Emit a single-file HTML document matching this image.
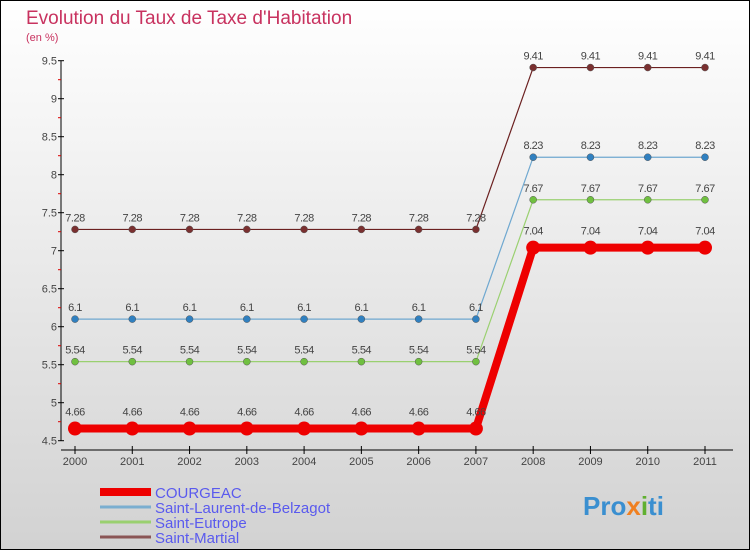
<!DOCTYPE html>
<html><head><meta charset="utf-8"><style>
body{margin:0}
#c{width:750px;height:550px;position:relative;overflow:hidden;font-family:"Liberation Sans",sans-serif}
</style></head><body>
<div id="c">
<svg id="s" width="750" height="550" xmlns="http://www.w3.org/2000/svg">
<defs><linearGradient id="bg" x1="0" y1="0" x2="0" y2="1"><stop offset="0" stop-color="#ffffff"/><stop offset="1" stop-color="#d2d2d2"/></linearGradient></defs>
<rect x="0.5" y="0.5" width="749" height="549" fill="url(#bg)" stroke="#000"/>
<text x="26" y="24" font-size="19" fill="#c8325f">Evolution du Taux de Taxe d'Habitation</text>
<text x="26" y="41" font-size="11" fill="#c8325f">(en %)</text>
<g id="axes"></g><g id="series"></g><g id="legend"></g>
<text x="583" y="515" font-size="26" font-weight="bold" fill="#3a8fd0">Pro<tspan fill="#f08020">x</tspan><tspan fill="#60b030">i</tspan>ti</text>
</svg></div>
<script>
const years=["2000","2001","2002","2003","2004","2005","2006","2007","2008","2009","2010","2011"];
const yTicks=[4.5,5,5.5,6,6.5,7,7.5,8,8.5,9,9.5];
const names=["COURGEAC","Saint-Laurent-de-Belzagot","Saint-Eutrope","Saint-Martial"];
const courgeac=[4.66,4.66,4.66,4.66,4.66,4.66,4.66,4.66,7.04,7.04,7.04,7.04];
const laurent=[6.1,6.1,6.1,6.1,6.1,6.1,6.1,6.1,8.23,8.23,8.23,8.23];
const eutrope=[5.54,5.54,5.54,5.54,5.54,5.54,5.54,5.54,7.67,7.67,7.67,7.67];
const martial=[7.28,7.28,7.28,7.28,7.28,7.28,7.28,7.28,9.41,9.41,9.41,9.41];
const NS="http://www.w3.org/2000/svg";
const X=i=>75+i*(630/11);
const Y=v=>440.7-(v-4.5)*76;
function mk(p,t,a){const e=document.createElementNS(NS,t);for(const k in a)e.setAttribute(k,a[k]);p.appendChild(e);return e;}
const ax=document.getElementById('axes');
let l=mk(ax,'line',{x1:61,y1:Y(9.5),x2:61,y2:Y(4.5),stroke:'#000'});


l=mk(ax,'line',{x1:61,y1:450,x2:733,y2:450,stroke:'#000'});


yTicks.forEach(v=>{
 mk(ax,'line',{x1:58,y1:Y(v),x2:64,y2:Y(v),stroke:'#000'});
 mk(ax,'line',{x1:58,y1:Y(v+0.25),x2:61,y2:Y(v+0.25),stroke:v<9.5?'#d00':'none'});
 const t=mk(ax,'text',{x:57,y:Y(v)+4,'font-size':11,'text-anchor':'end',fill:'#444'});t.textContent=String(v);
 
 
});
years.forEach((y,i)=>{
 mk(ax,'line',{x1:X(i),y1:446,x2:X(i),y2:454,stroke:'#000'});
 const t=mk(ax,'text',{x:X(i),y:465,'font-size':11,'text-anchor':'middle',fill:'#444'});t.textContent=y;
 
 
});
const sg=document.getElementById('series');
const defs=[[martial,'#6b2020','#7a3030',1.2,3.5,'series-saint-martial'],[laurent,'#6fa8d0','#3080c0',1.2,3.5,'series-saint-laurent'],[eutrope,'#9ad070','#70c040',1.2,3.5,'series-saint-eutrope'],[courgeac,'#ee0000','#ee0000',8,7,'series-courgeac']];
defs.forEach(([d,lc,pc,w,r,n])=>{
 const g=mk(sg,'g',{});
 
 
 const p=mk(g,'polyline',{points:d.map((v,i)=>X(i)+','+Y(v)).join(' '),fill:'none',stroke:lc,'stroke-width':w});
 
 
 d.forEach((v,i)=>{
  const c=mk(g,'circle',{cx:X(i),cy:Y(v),r:r,fill:pc,stroke:w>2?'none':'#555','stroke-width':0.5});
  
  
  const t=mk(g,'text',{x:X(i),y:Y(v)-(w>2?13:8),'font-size':11,'text-anchor':'middle',fill:'#444','letter-spacing':'-0.5'});t.textContent=String(v);
  
  
 });
});
const lg=document.getElementById('legend');
const lc=['#ee0000','#7aaed0','#9ad070','#8a5555'];const lw=[8,3,3,3];
names.forEach((n,i)=>{
 const y=492+i*15;
 const g=mk(lg,'g',{});
 
 
 mk(g,'line',{x1:100,y1:y,x2:151,y2:y,stroke:lc[i],'stroke-width':lw[i]});
 const t=mk(g,'text',{x:155,y:y+6,'font-size':15,fill:'#5a5aee'});t.textContent=n;
});
</script>
</body></html>
